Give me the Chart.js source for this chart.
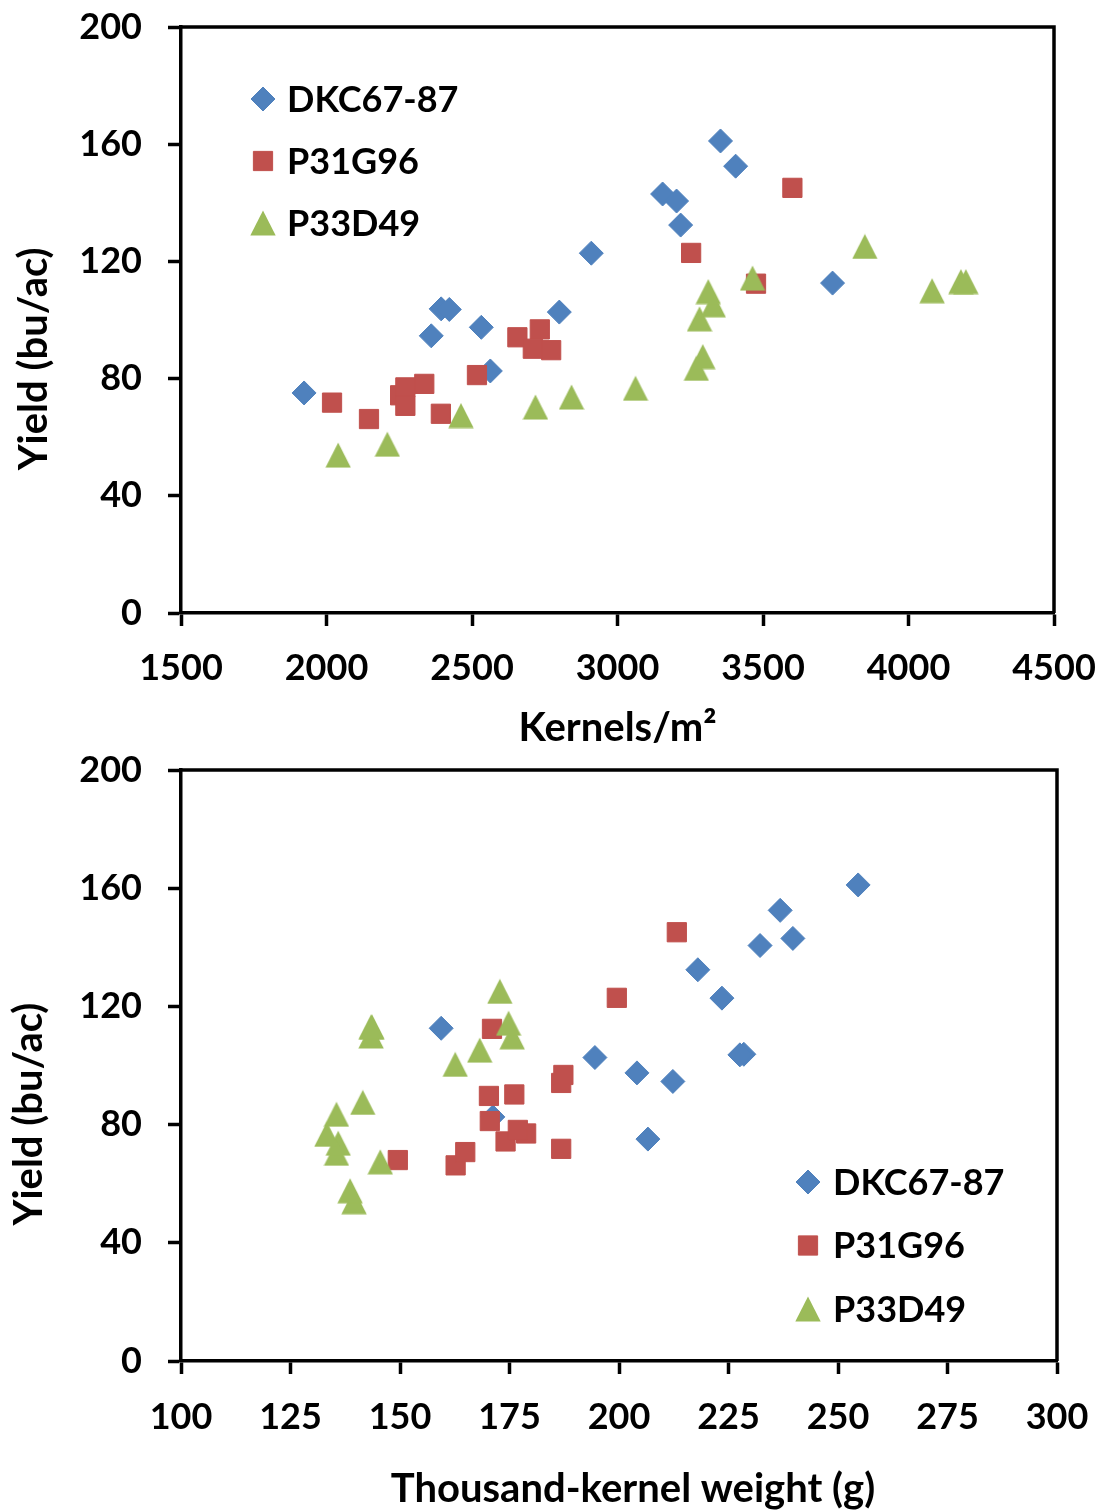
<!DOCTYPE html>
<html><head><meta charset="utf-8">
<script src="https://cdn.jsdelivr.net/npm/chart.js@4.4.1/dist/chart.umd.min.js"></script>
<style>
html,body{margin:0;padding:0;background:#fff;}
#wrap{position:relative;width:1102px;height:1510px;overflow:hidden;}
canvas{position:absolute;left:0;}
</style></head><body>
<div id="wrap">
<canvas id="topChart" width="1102" height="745" style="top:0"></canvas>
<canvas id="botChart" width="1102" height="765" style="top:745px"></canvas>
</div>
<script>
// ---------- DATA ----------
const seriesLabels = ['DKC67-87', 'P31G96', 'P33D49'];

// DKC67-87
const dkcKernels = [1923, 2394, 2422, 2360, 2532, 2563, 2800, 2910, 3155, 3203, 3217, 3354, 3406, 3739];
const dkcTKW     = [206.6, 228.5, 227.6, 212.3, 204.1, 171.2, 194.5, 223.5, 239.7, 232.2, 218.0, 254.6, 236.8, 159.4];
const dkcYield   = [75.1, 103.8, 103.6, 94.6, 97.5, 82.6, 102.7, 122.8, 143.0, 140.6, 132.4, 161.1, 152.5, 112.6];

// P31G96
const p31Kernels = [2019, 2146, 2253, 2271, 2271, 2336, 2393, 2517, 2656, 2709, 2733, 2772, 3253, 3476, 3601];
const p31TKW     = [186.8, 162.7, 174.1, 178.8, 164.9, 176.9, 149.5, 170.5, 186.8, 176.1, 187.3, 170.3, 199.5, 171.0, 213.2];
const p31Yield   = [71.8, 66.2, 74.3, 77.0, 70.7, 78.2, 68.0, 81.2, 94.1, 90.2, 96.8, 89.7, 122.9, 112.4, 145.1];

// P33D49
const p33Kernels = [2040, 2209, 2462, 2718, 2842, 3062, 3271, 3293, 3282, 3329, 3312, 3464, 3850, 4081, 4180, 4197];
const p33TKW     = [139.5, 138.6, 145.5, 135.5, 135.9, 133.3, 135.5, 141.5, 162.6, 168.2, 175.6, 174.8, 172.8, 143.4, 143.4, 143.6];
const p33Yield   = [53.9, 57.6, 67.4, 70.3, 73.7, 76.7, 83.5, 87.5, 100.4, 105.2, 109.7, 114.3, 125.1, 110.0, 113.1, 113.1];

// tick labels
const yieldTicks  = [0, 40, 80, 120, 160, 200];
const kernelTicks = [1500, 2000, 2500, 3000, 3500, 4000, 4500];
const tkwTicks    = [100, 125, 150, 175, 200, 225, 250, 275, 300];

const yTitle = 'Yield (bu/ac)';
const xTitleTop = 'Kernels/m\u00B2';
const xTitleBot = 'Thousand-kernel weight (g)';

// ---------- STYLE ----------
const BLUE = '#4F81BD', RED = '#C0504D', GREEN = '#9BBB59';
const FONT = 'Lato';

function triangleImage(color) {
  const c = document.createElement('canvas');
  c.width = 26; c.height = 26;
  const g = c.getContext('2d');
  g.fillStyle = color;
  g.beginPath();
  g.moveTo(13, 0.5); g.lineTo(25.7, 25.5); g.lineTo(0.3, 25.5); g.closePath();
  g.fill();
  return c;
}
const triImg = triangleImage(GREEN);

function pts(xs, ys) { return xs.map((x, i) => ({x: x, y: ys[i]})); }

function makeDatasets(dx, px, gx) {
  return [
    {label: seriesLabels[0], data: pts(dx, dkcYield), pointStyle: 'rectRot', pointRadius: 12, borderWidth: 1,
     backgroundColor: BLUE, borderColor: BLUE, order: 3},
    {label: seriesLabels[1], data: pts(px, p31Yield), pointStyle: 'rect', pointRadius: 13.6, borderWidth: 1,
     backgroundColor: RED, borderColor: RED, order: 2},
    {label: seriesLabels[2], data: pts(gx, p33Yield), pointStyle: triImg, pointRadius: 13, borderWidth: 0,
     backgroundColor: GREEN, borderColor: GREEN, order: 1}
  ];
}

const framePlugin = {
  id: 'frame',
  beforeDatasetsDraw(chart) {
    const a = chart.chartArea, ctx = chart.ctx;
    ctx.save();
    ctx.strokeStyle = '#000';
    ctx.lineWidth = 3.5;
    ctx.beginPath();
    ctx.moveTo(a.left, a.top);
    ctx.lineTo(a.right, a.top);
    ctx.lineTo(a.right, a.bottom);
    ctx.stroke();
    ctx.restore();
  }
};

const legendPlugin = {
  id: 'markerLegend',
  afterDraw(chart, args, o) {
    const ctx = chart.ctx;
    ctx.save();
    chart.data.datasets.forEach((ds, i) => {
      const y = o.y + i * o.gap;
      ctx.fillStyle = ds.backgroundColor;
      ctx.strokeStyle = ds.borderColor;
      ctx.lineWidth = ds.borderWidth;
      Chart.helpers.drawPoint(ctx, {pointStyle: ds.pointStyle, radius: ds.pointRadius, borderWidth: ds.borderWidth, rotation: 0}, o.x, y);
      ctx.fillStyle = '#000';
      ctx.font = 'bold ' + o.size + 'px ' + FONT;
      ctx.textBaseline = 'middle';
      ctx.textAlign = 'left';
      ctx.fillText(ds.label, o.textX, y + o.dy);
    });
    ctx.restore();
  }
};

function axisCommon() {
  return {
    grid: {display: true, drawOnChartArea: false, drawTicks: true, tickLength: 13, tickWidth: 3.5, tickColor: '#000', color: '#000'},
    border: {display: true, color: '#000', width: 3.5}
  };
}

function zeroPad(s) { s.paddingTop = 0; s.paddingBottom = 0; s.paddingLeft = 0; s.paddingRight = 0; }

function makeChart(id, xs, xTicks, xTitle, cfg) {
  const ds = makeDatasets(xs[0], xs[1], xs[2]);
  return new Chart(document.getElementById(id), {
    type: 'scatter',
    data: {datasets: ds},
    plugins: [framePlugin, legendPlugin],
    options: {
      responsive: false,
      animation: false,
      events: [],
      devicePixelRatio: 1,
      layout: {padding: {top: cfg.top, right: cfg.right, left: 0, bottom: 0}},
      plugins: {legend: {display: false}, tooltip: {enabled: false}, markerLegend: cfg.legend},
      scales: {
        x: Object.assign(axisCommon(), {
          type: 'linear', min: xTicks[0], max: xTicks[xTicks.length - 1],
          afterBuildTicks: s => { s.ticks = xTicks.map(v => ({value: v})); },
          afterFit: s => { s.height = cfg.xh; zeroPad(s); },
          ticks: {color: '#000', font: {family: FONT, weight: 'bold', size: 36}, padding: cfg.xpad,
                  maxRotation: 0, autoSkip: false, callback: v => String(v)},
          title: {display: true, text: cfg.xLead + xTitle, color: '#000', font: {family: FONT, weight: 'bold', size: 40, lineHeight: cfg.xtlh},
                  padding: {top: 0, bottom: cfg.xtpad}}
        }),
        y: Object.assign(axisCommon(), {
          type: 'linear', min: yieldTicks[0], max: yieldTicks[yieldTicks.length - 1],
          afterBuildTicks: s => { s.ticks = yieldTicks.map(v => ({value: v})); },
          afterFit: s => { s.width = 181; zeroPad(s); },
          ticks: {color: '#000', font: {family: FONT, weight: 'bold', size: 36}, padding: 26, callback: v => String(v)},
          title: {display: true, text: yTitle + cfg.ySpaces, color: '#000', font: {family: FONT, weight: 'bold', size: 40, lineHeight: 1.2},
                  padding: {top: cfg.ytpad, bottom: 0}}
        })
      }
    }
  });
}

function draw() {
  makeChart('topChart', [dkcKernels, p31Kernels, p33Kernels], kernelTicks, xTitleTop, {
    top: 27, right: 48, xh: 132, xpad: 21, xtlh: 0.75, xtpad: 2, ytpad: 10, ySpaces: '\u00A0'.repeat(8), xLead: '',
    legend: {x: 263, y: 99, gap: 62, textX: 287, size: 36, dy: 1}
  });
  makeChart('botChart', [dkcTKW, p31TKW, p33TKW], tkwTicks, xTitleBot, {
    top: 25, right: 45, xh: 149, xpad: 22, xtlh: 1, xtpad: 1, ytpad: 5, ySpaces: '\u00A0'.repeat(10), xLead: '\u00A0'.repeat(3),
    legend: {x: 808, y: 437, gap: 63.5, textX: 833, size: 36, dy: 1}
  });
}
if (document.fonts && document.fonts.load) {
  Promise.all([document.fonts.load('bold 36px Lato'), document.fonts.load('bold 40px Lato')]).then(draw, draw);
} else { draw(); }
</script>
</body></html>
